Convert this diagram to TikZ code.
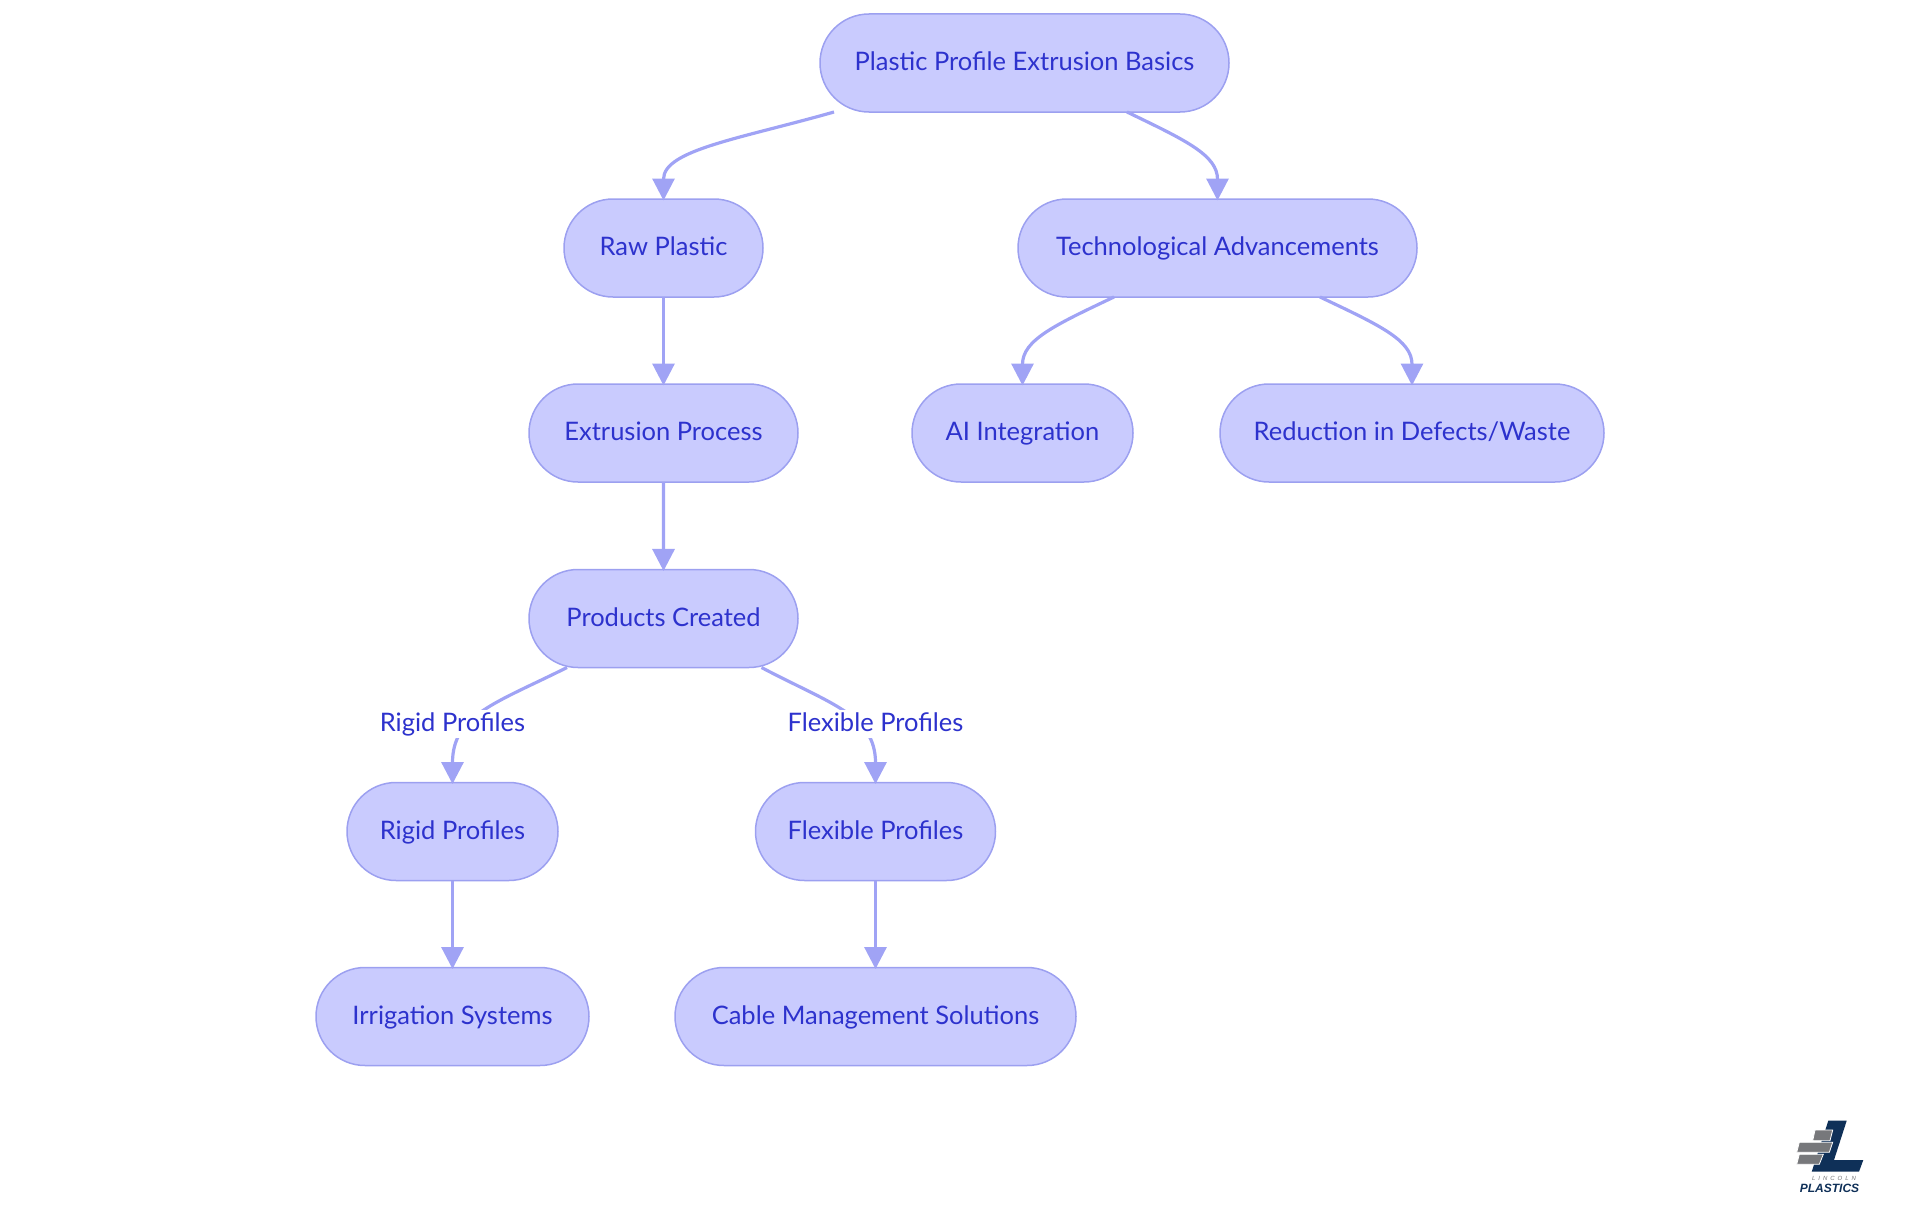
\documentclass[tikz,border=0pt]{standalone}
\usepackage{fontspec}
\setmainfont{Lato}
\newfontfamily\logofont{Liberation Sans}
\usetikzlibrary{arrows.meta,shapes.misc}
\definecolor{pillfill}{HTML}{C9CBFE}
\definecolor{pillline}{HTML}{9CA0F0}
\definecolor{pilltext}{HTML}{2D32CD}
\definecolor{edgecol}{HTML}{A0A3F5}
\definecolor{navy}{HTML}{0F3058}
\definecolor{brick}{HTML}{77787B}
\tikzset{
  pill/.style={rounded rectangle,draw=pillline,fill=pillfill,line width=1.5pt,text=pilltext,
    minimum height=98pt,inner sep=0pt,outer sep=0pt,text height=20pt,text depth=5pt,font=\fontsize{25.5}{30}\selectfont},
  conn/.style={draw=edgecol,line width=3.2pt,shorten >=-1.5pt,-{Triangle[length=22pt,width=22pt]}},
  edgelabel/.style={fill=white,text=pilltext,inner xsep=0pt,inner ysep=1.5pt,text height=20pt,text depth=5pt,font=\fontsize{25.5}{30}\selectfont},
  logobar/.style={fill=brick,draw=white,line width=0.8pt},
}
\begin{document}
\begin{tikzpicture}[x=1pt,y=-1pt]
\useasboundingbox (0,0) rectangle (1920,1215);
\node[pill,minimum width=409pt] (top) at (1024.5,63) {Plastic Profile Extrusion Basics};
\node[pill,minimum width=199pt] (raw) at (663.5,248) {Raw Plastic};
\node[pill,minimum width=399pt] (tech) at (1217.5,248) {Technological Advancements};
\node[pill,minimum width=269pt] (ext) at (663.5,433) {Extrusion Process};
\node[pill,minimum width=221pt] (ai) at (1022.5,433) {AI Integration};
\node[pill,minimum width=384pt] (red) at (1412,433) {Reduction in Defects/Waste};
\node[pill,minimum width=269pt] (prod) at (663.5,618.5) {Products Created};
\node[pill,minimum width=211pt] (rigid) at (452.5,831.5) {Rigid Profiles};
\node[pill,minimum width=240pt] (flex) at (875.5,831.5) {Flexible Profiles};
\node[pill,minimum width=273pt] (irr) at (452.5,1016.5) {Irrigation Systems};
\node[pill,minimum width=401pt] (cable) at (875.5,1016.5) {Cable Management Solutions};

\draw[conn] ([xshift=-190.5pt]top.south) .. controls +(-95,27) and (663.5,150) .. (raw.north);
\draw[conn] ([xshift=102.5pt]top.south) .. controls +(58,28) and (1217.5,155) .. (tech.north);
\draw[conn] (raw) -- (ext);
\draw[conn] (ext) -- (prod);
\draw[conn] ([xshift=-103.5pt]tech.south) .. controls +(-59,28) and (1022.5,340) .. (ai.north);
\draw[conn] ([xshift=102.5pt]tech.south) .. controls +(59,28) and (1412,340) .. (red.north);
\draw[conn] ([xshift=-96.5pt]prod.south) .. controls +(-72,36) and (452.5,715) .. (rigid.north);
\draw[conn] ([xshift=98pt]prod.south) .. controls +(68,36) and (875.5,715) .. (flex.north);
\draw[conn] (rigid) -- (irr);
\draw[conn] (flex) -- (cable);

\node[edgelabel] (lr) at (452.5,724) {Rigid Profiles};
\node[edgelabel] (lf) at (875.5,724) {Flexible Profiles};

% logo
\fill[navy] (1828.3,1120.7) -- (1846.7,1120.7) -- (1834,1160) -- (1863.3,1160) -- (1859,1171.7) -- (1811.7,1171.7) -- cycle;
\draw[logobar] (1815,1130) -- (1832.7,1130) -- (1830,1140.7) -- (1812.7,1140.7) -- cycle;
\draw[logobar] (1799.3,1142.3) -- (1832.7,1142.3) -- (1829.3,1152.3) -- (1796.7,1152.3) -- cycle;
\draw[logobar] (1799.3,1154.3) -- (1823.3,1154.3) -- (1819.3,1164.3) -- (1796.7,1164.3) -- cycle;
\node[text=brick,inner sep=0pt,font={\logofont\fontsize{6}{7}\selectfont\itshape}] (lg1) at (1834,1178) {L\hspace{3pt}I\hspace{3pt}N\hspace{3pt}C\hspace{3pt}O\hspace{3pt}L\hspace{3pt}N};
\node[text=navy,inner sep=0pt,font={\logofont\fontsize{12}{13}\selectfont\bfseries\itshape}] (lg2) at (1830,1188.5) {\hspace{-1pt}PLASTICS};
\end{tikzpicture}
\end{document}
